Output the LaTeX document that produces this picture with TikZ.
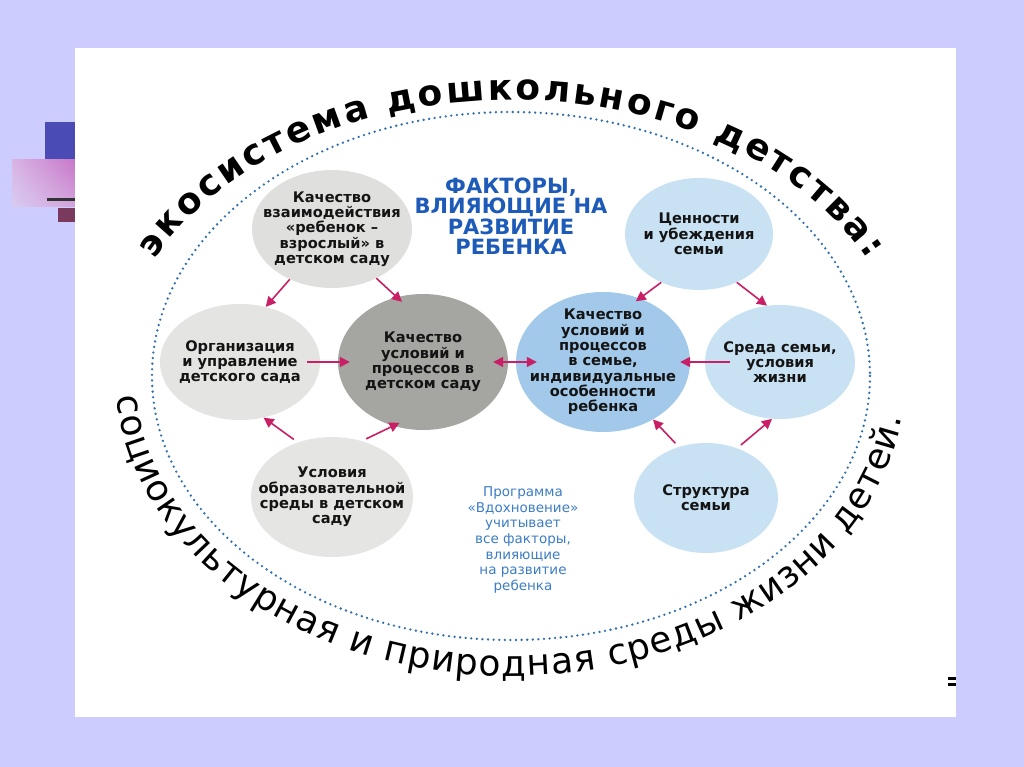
\documentclass[tikz,border=0pt]{standalone}
\usepackage{fontspec}
\setmainfont{DejaVu Sans}
\usetikzlibrary{decorations.text,arrows.meta,shapes.geometric,shadings}
\definecolor{slidebg}{HTML}{CCCCFF}
\definecolor{sqblue}{HTML}{4B4BB5}
\definecolor{maroon}{HTML}{7A3A5E}
\definecolor{pinkA}{HTML}{C878C8}
\definecolor{pinkB}{HTML}{D9B4E4}
\definecolor{pinkC}{HTML}{D8CCF2}
\definecolor{pinkD}{HTML}{D4A4DC}
\definecolor{dotblue}{HTML}{2F6FAE}
\definecolor{greyA}{HTML}{DFDFDD}
\definecolor{greyB}{HTML}{A5A5A2}
\definecolor{blueA}{HTML}{C8E1F3}
\definecolor{blueB}{HTML}{A2C9EA}
\definecolor{arrowc}{HTML}{C81F66}
\definecolor{titleblue}{HTML}{1E5BB8}
\definecolor{progblue}{HTML}{3C7DC4}
\definecolor{inktext}{HTML}{141414}
\tikzset{
  bub/.style={ellipse, inner sep=0pt, draw=none},
  ntext/.style={font=\bfseries\fontsize{14.6}{15.3}\selectfont, align=center, text=inktext},
  arr/.style={-{Triangle[length=10pt,width=10pt]}, line width=1.6pt, draw=arrowc},
  darr/.style={{Triangle[length=10pt,width=10pt]}-{Triangle[length=10pt,width=10pt]}, line width=1.6pt, draw=arrowc},
  titletext/.style={font=\bfseries\fontsize{21}{20.5}\selectfont, align=center, text=titleblue},
  progtext/.style={font=\fontsize{13.5}{15.6}\selectfont, align=center, text=progblue},
  dotring/.style={draw=dotblue, line width=2.6pt, line cap=round, dash pattern=on 0pt off 5.6pt},
}
\begin{document}
\begin{tikzpicture}[x=1pt,y=-1pt]
\useasboundingbox (0,0) rectangle (1024,767);
\fill[slidebg] (0,0) rectangle (1024,767);
% slide decorations at left
\fill[sqblue] (45,122) rectangle (75,160);
\shade[upper left=pinkB, upper right=pinkA, lower left=pinkC, lower right=pinkD] (12,160) rectangle (75,207);
\fill[black!80] (47,198) rectangle (75,201);
\fill[maroon] (58,208) rectangle (75,222);
% white panel
\fill[white] (75,48) rectangle (956,717);
\fill[black] (948,677) rectangle (956,680);
\fill[black] (948,683) rectangle (956,686);
% dotted ring
\draw[dotring] (511,376) ellipse [x radius=359, y radius=264];
% curved texts
\path[decorate, decoration={text along path, text align=fit to path, text color=black,
  text={|\bfseries\fontsize{36}{36}\selectfont|экосистема дошкольного детства:}}]
  (511,376) ++(205:393 and 276) arc[start angle=205, end angle=335, x radius=393, y radius=276];
\path[decorate, decoration={text along path, text align=fit to path, text color=black,
  text={|\fontsize{36}{36}\selectfont|социокультурная и природная среды жизни детей.}}]
  (511,376) ++(176:395 and 300) arc[start angle=176, end angle=8, x radius=395, y radius=300];
% bubbles
\node[bub, fill=greyA, minimum width=160pt, minimum height=118pt,
  label={[ntext]center:{Качество\\взаимодействия\\«ребенок –\\взрослый» в\\детском саду}}] (n1) at (332,229) {};
\node[bub, fill=greyA!85!white, minimum width=160pt, minimum height=116pt,
  label={[ntext]center:{Организация\\и управление\\детского сада}}] (n2) at (240,362) {};
\node[bub, fill=greyB, minimum width=170pt, minimum height=136pt,
  label={[ntext]center:{Качество\\условий и\\процессов в\\детском саду}}] (n3) at (423,362) {};
\node[bub, fill=greyA!80!white, minimum width=162pt, minimum height=120pt,
  label={[ntext]center:{Условия\\образовательной\\среды в детском\\саду}}] (n4) at (332,497) {};
\node[bub, fill=blueA, minimum width=148pt, minimum height=112pt,
  label={[ntext]center:{Ценности\\и убеждения\\семьи}}] (n5) at (699,234) {};
\node[bub, fill=blueB, minimum width=174pt, minimum height=140pt,
  label={[ntext]center:{Качество\\условий и\\процессов\\в семье,\\индивидуальные\\особенности\\ребенка}}] (n6) at (603,362) {};
\node[bub, fill=blueA, minimum width=150pt, minimum height=114pt,
  label={[ntext]center:{Среда семьи,\\условия\\жизни}}] (n7) at (780,362) {};
\node[bub, fill=blueA, minimum width=144pt, minimum height=110pt,
  label={[ntext]center:{Структура\\семьи}}] (n8) at (706,498) {};
% texts
\node[titletext] (title) at (511,216) {ФАКТОРЫ,\\ВЛИЯЮЩИЕ НА\\РАЗВИТИЕ\\РЕБЕНКА};
\node[progtext] (prog) at (523,540) {Программа\\«Вдохновение»\\учитывает\\все факторы,\\влияющие\\на развитие\\ребенка};
% arrows
\draw[arr] (n1.230) -- (n2.65);
\draw[arr, shorten >=-7pt] (n1.312) -- (n3.112);
\draw[arr, shorten <=-13pt, shorten >=-12pt] (n2.east) -- (n3.west);
\draw[darr, shorten <=-15pt, shorten >=-21pt] (n3.east) -- (n6.west);
\draw[arr, shorten <=-25pt, shorten >=-10pt] (n7.west) -- (n6.east);
\draw[arr, shorten >=-5pt] (n5.232) -- (n6.60);
\draw[arr] (n5.308) -- (n7.103);
\draw[arr, shorten <=5pt] (n4.122) -- (n2.293);
\draw[arr, shorten <=5pt, shorten >=-7pt] (n4.62) -- (n3.245);
\draw[arr, shorten <=5pt] (n8.118) -- (n6.311);
\draw[arr, shorten <=5pt] (n8.58) -- (n7.262);
\end{tikzpicture}
\end{document}
